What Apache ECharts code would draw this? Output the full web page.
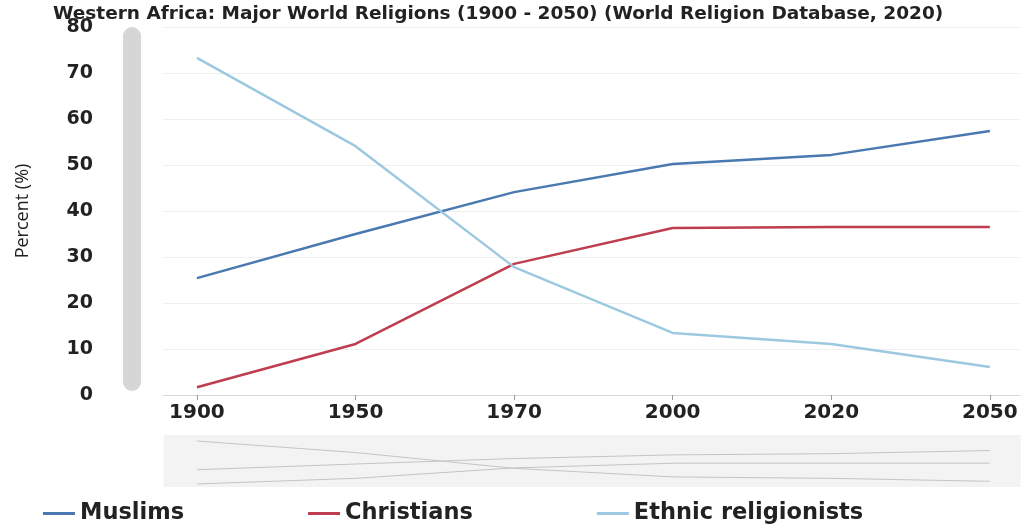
<!DOCTYPE html>
<html>
<head>
<meta charset="utf-8">
<script src="https://cdn.jsdelivr.net/npm/echarts@6/dist/echarts.min.js"></script>
<style>
  html, body { margin: 0; padding: 0; background: #fff; }
  #chart { width: 1026px; height: 530px; }
</style>
</head>
<body>
<div id="chart"></div>
<script>
(function () {
  var years = ['1900', '1950', '1970', '2000', '2020', '2050'];
  var muslims = [25.4, 35.0, 44.1, 50.2, 52.2, 57.4];
  var christians = [1.7, 11.1, 28.5, 36.3, 36.5, 36.5];
  var ethnic = [73.3, 54.1, 27.8, 13.5, 11.1, 6.1];

  var names = ['Muslims', 'Christians', 'Ethnic religionists'];
  var colors = ['#4a78b0', '#be3d4e', '#9dc9e0'];
  var values = [muslims, christians, ethnic];

  // category positions 0..5 on a value axis, so the grid can run past the first/last year
  var idx = years.map(function (y, i) { return i; });
  function pairs(arr) {
    return arr.map(function (v, i) { return [i, v]; });
  }

  var myChart = echarts.init(document.getElementById('chart'));

  var series = [];
  for (var i = 0; i < names.length; i++) {
    series.push({
      name: names[i],
      type: 'line',
      data: pairs(values[i]),
      symbol: 'none',
      lineStyle: { width: 2.5, color: colors[i] },
      itemStyle: { color: colors[i] },
      xAxisIndex: 0,
      yAxisIndex: 0
    });
    // grey copies for the zoom strip
    series.push({
      type: 'line',
      data: pairs(values[i]),
      symbol: 'none',
      silent: true,
      zlevel: 1,
      lineStyle: { width: 1, color: '#c4c4c4' },
      xAxisIndex: 1,
      yAxisIndex: 1
    });
  }

  var xMin = -0.214, xMax = 5.19;

  var option = {
    backgroundColor: '#fff',
    animation: false,
    title: {
      text: 'Western Africa: Major World Religions (1900 - 2050) (World Religion Database, 2020)',
      left: 48,
      top: 0,
      textStyle: { fontFamily: 'DejaVu Sans', fontWeight: 'bold', fontSize: 18.5, color: '#222' }
    },
    legend: {
      data: names,
      left: 38,
      bottom: 0,
      itemWidth: 32,
      itemHeight: 3,
      itemGap: 124,
      icon: 'rect',
      textStyle: { fontFamily: 'DejaVu Sans', fontWeight: 'bold', fontSize: 22.5, color: '#222' }
    },
    graphic: [
      {
        type: 'rect',
        left: 123,
        top: 27,
        shape: { width: 18, height: 364, r: 9 },
        style: { fill: '#d6d6d6' },
        silent: true
      }
    ],
    grid: [
      { left: 163, right: 6, top: 27, bottom: 135 },
      { left: 163, right: 6, top: 440, height: 45 }
    ],
    xAxis: [
      {
        type: 'value',
        min: xMin,
        max: xMax,
        gridIndex: 0,
        axisLine: { show: true, onZero: false, lineStyle: { color: '#d8d8d8' } },
        axisTick: { show: true, customValues: idx, length: 5, lineStyle: { color: '#999' } },
        axisLabel: {
          customValues: idx,
          formatter: function (v) { return years[Math.round(v)]; },
          fontFamily: 'DejaVu Sans', fontWeight: 'bold', fontSize: 20, color: '#222', margin: 8
        },
        splitLine: { show: false }
      },
      {
        type: 'value',
        min: xMin,
        max: xMax,
        gridIndex: 1,
        show: false
      }
    ],
    yAxis: [
      {
        type: 'value',
        min: 0,
        max: 80,
        interval: 10,
        gridIndex: 0,
        name: 'Percent (%)',
        nameLocation: 'middle',
        nameGap: 131,
        nameTextStyle: { fontFamily: 'Open Sans', fontSize: 18, color: '#222' },
        axisLine: { show: false },
        axisTick: { show: false },
        axisLabel: { fontFamily: 'DejaVu Sans', fontWeight: 'bold', fontSize: 19, color: '#222', margin: 70 },
        splitLine: { lineStyle: { color: '#f0f0f0' } }
      },
      {
        type: 'value',
        min: 0,
        max: 75,
        gridIndex: 1,
        show: false
      }
    ],
    dataZoom: [
      {
        type: 'slider',
        xAxisIndex: 0,
        left: 163,
        right: 6,
        top: 435,
        height: 52,
        z: 0,
        showDetail: false,
        showDataShadow: false,
        brushSelect: false,
        backgroundColor: '#f3f3f3',
        borderColor: 'transparent',
        fillerColor: 'transparent',
        handleSize: 0,
        handleStyle: { opacity: 0 },
        moveHandleSize: 0,
        moveHandleStyle: { opacity: 0 },
        zoomLock: true
      }
    ],
    series: series
  };

  myChart.setOption(option);
  window.addEventListener('resize', function () {
    myChart.resize();
  });
})();
</script>
</body>
</html>
